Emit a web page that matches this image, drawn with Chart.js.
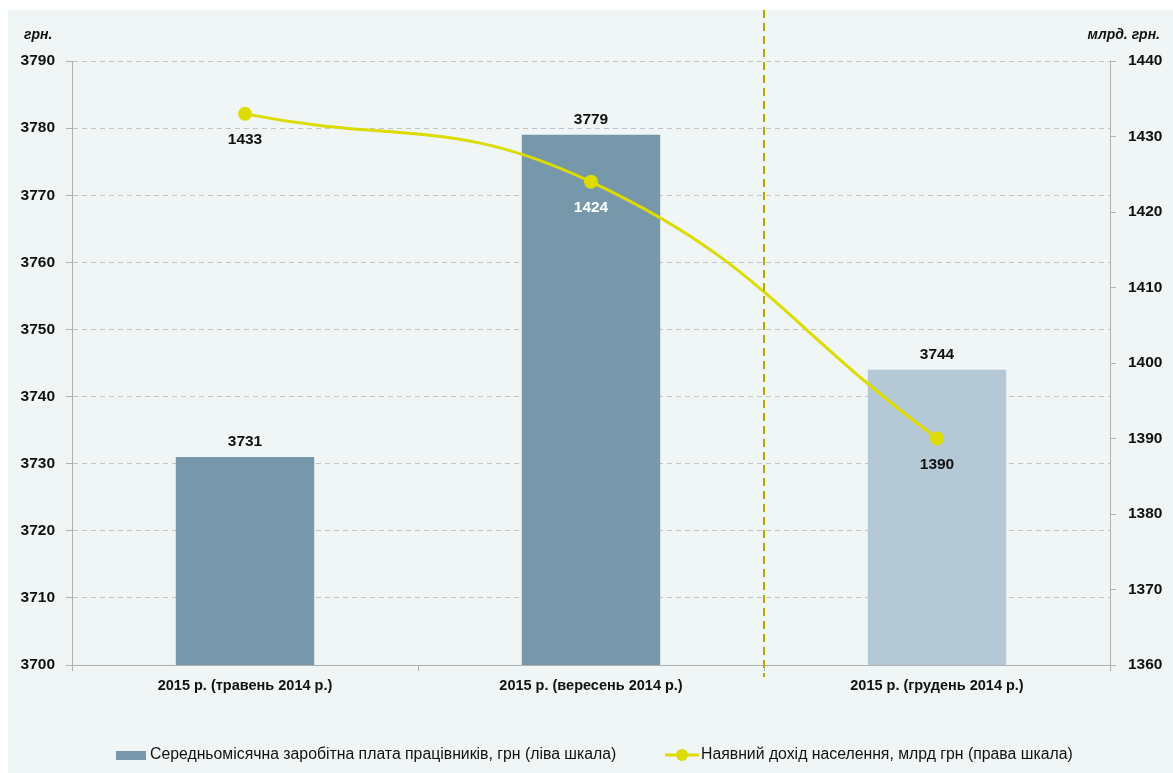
<!DOCTYPE html>
<html>
<head>
<meta charset="utf-8">
<script src="https://cdn.jsdelivr.net/npm/chart.js@4/dist/chart.umd.min.js"></script>
<style>
  html, body { margin: 0; padding: 0; background: #ffffff; }
  #wrap { width: 1173px; height: 773px; position: relative; }
</style>
</head>
<body>
<div id="wrap"><canvas id="chart" width="1173" height="773"></canvas></div>
<script>
// categories and values
const categories = ['2015 р. (травень 2014 р.)', '2015 р. (вересень 2014 р.)', '2015 р. (грудень 2014 р.)'];
const wageValues = [3731, 3779, 3744];      // грн, left scale
const incomeValues = [1433, 1424, 1390];    // млрд грн, right scale
const wageLabel = 'Середньомісячна заробітна плата працівників, грн (ліва шкала)';
const incomeLabel = 'Наявний дохід населення, млрд грн (права шкала)';
const leftMin = 3700, leftMax = 3790;
const rightMin = 1360, rightMax = 1440;

const barColors = ['#7797aa', '#7797aa', '#b5c8d5'];
const lineColor = '#dcdc00';
const incomeLabelColors = ['#111111', '#ffffff', '#111111'];
const font = '"Liberation Sans", Arial, sans-serif';

const decorPlugin = {
    id: 'decor',
    beforeDraw(chart) {
        const ctx = chart.ctx;
        ctx.save();
        ctx.fillStyle = '#f0f5f6';
        ctx.fillRect(8, 10, chart.width - 8, chart.height - 10);
        ctx.restore();
    },
    afterDraw(chart) {
        const ctx = chart.ctx;
        const x = chart.scales.x;
        ctx.save();
        // vertical dashed separator between 2nd and 3rd category
        const sepX = (x.getPixelForValue(1) + x.getPixelForValue(2)) / 2;
        ctx.strokeStyle = '#b5a800';
        ctx.lineWidth = 2;
        ctx.setLineDash([8, 5]);
        ctx.beginPath();
        ctx.moveTo(sepX, 10);
        ctx.lineTo(sepX, chart.chartArea.bottom + 12);
        ctx.stroke();
        ctx.setLineDash([]);

        // axis titles
        ctx.fillStyle = '#111111';
        ctx.font = 'italic bold 14px ' + font;
        ctx.textBaseline = 'middle';
        ctx.textAlign = 'left';
        ctx.fillText('грн.', 24, 35);
        ctx.textAlign = 'right';
        ctx.fillText('млрд. грн.', 1160, 35);

        // data labels
        const barMeta = chart.getDatasetMeta(0);
        ctx.font = 'bold 15.5px ' + font;
        ctx.textAlign = 'center';
        ctx.textBaseline = 'bottom';
        barMeta.data.forEach((bar, i) => {
            ctx.fillStyle = '#111111';
            ctx.fillText(String(wageValues[i]), bar.x, bar.y - 7);
        });
        const lineMeta = chart.getDatasetMeta(1);
        ctx.textBaseline = 'middle';
        lineMeta.data.forEach((pt, i) => {
            ctx.fillStyle = incomeLabelColors[i];
            ctx.fillText(String(incomeValues[i]), pt.x, pt.y + 26);
        });

        // legend
        const ly = 755;
        ctx.fillStyle = barColors[0];
        ctx.fillRect(116, ly - 4, 30, 9);
        ctx.fillStyle = '#111111';
        ctx.font = '15.8px ' + font;
        ctx.textAlign = 'left';
        ctx.fillText(chart.data.datasets[0].label, 150, ly);
        ctx.strokeStyle = lineColor;
        ctx.lineWidth = 3;
        ctx.beginPath();
        ctx.moveTo(665, ly);
        ctx.lineTo(699, ly);
        ctx.stroke();
        ctx.fillStyle = lineColor;
        ctx.beginPath();
        ctx.arc(682, ly, 6, 0, Math.PI * 2);
        ctx.fill();
        ctx.fillStyle = '#111111';
        ctx.fillText(chart.data.datasets[1].label, 701, ly);
        ctx.restore();
    }
};

const plainTick = v => String(v);

new Chart(document.getElementById('chart'), {
    data: {
        labels: categories,
        datasets: [
            {
                type: 'bar',
                label: wageLabel,
                data: wageValues,
                yAxisID: 'y',
                backgroundColor: barColors,
                barPercentage: 0.8,
                categoryPercentage: 0.5,
                order: 1
            },
            {
                type: 'line',
                label: incomeLabel,
                data: incomeValues,
                yAxisID: 'y1',
                borderColor: lineColor,
                backgroundColor: lineColor,
                borderWidth: 3,
                tension: 0.45,
                pointRadius: 7,
                pointHoverRadius: 7,
                pointBackgroundColor: lineColor,
                pointBorderWidth: 0,
                order: 0
            }
        ]
    },
    plugins: [decorPlugin],
    options: {
        responsive: false,
        animation: false,
        layout: { padding: { top: 61, left: 0, right: 0, bottom: 0 } },
        plugins: {
            legend: { display: false },
            tooltip: { enabled: false }
        },
        scales: {
            x: {
                grid: { drawOnChartArea: false, color: '#b0b0b0', tickLength: 6, offset: true },
                border: { color: '#b0b0b0', width: 1 },
                ticks: { color: '#111111', font: { family: font, size: 14.5, weight: 'bold' }, padding: 6, maxRotation: 0 },
                afterFit(scale) { scale.height = 108; }
            },
            y: {
                position: 'left',
                min: leftMin,
                max: leftMax,
                ticks: { stepSize: 10, callback: plainTick, color: '#111111', font: { family: font, size: 15.5, weight: 'bold' }, padding: 11 },
                grid: { color: '#c4c4c4', tickColor: '#b0b0b0', tickLength: 6 },
                border: { color: '#b0b0b0', width: 1, dash: [5, 4] },
                afterFit(scale) { scale.width = 72; }
            },
            y1: {
                position: 'right',
                min: rightMin,
                max: rightMax,
                ticks: { stepSize: 10, callback: plainTick, color: '#111111', font: { family: font, size: 15.5, weight: 'bold' }, padding: 12 },
                grid: { drawOnChartArea: false, tickColor: '#b0b0b0', tickLength: 6 },
                border: { color: '#b0b0b0', width: 1 },
                afterFit(scale) { scale.width = 63; }
            }
        }
    }
});
</script>
</body>
</html>
